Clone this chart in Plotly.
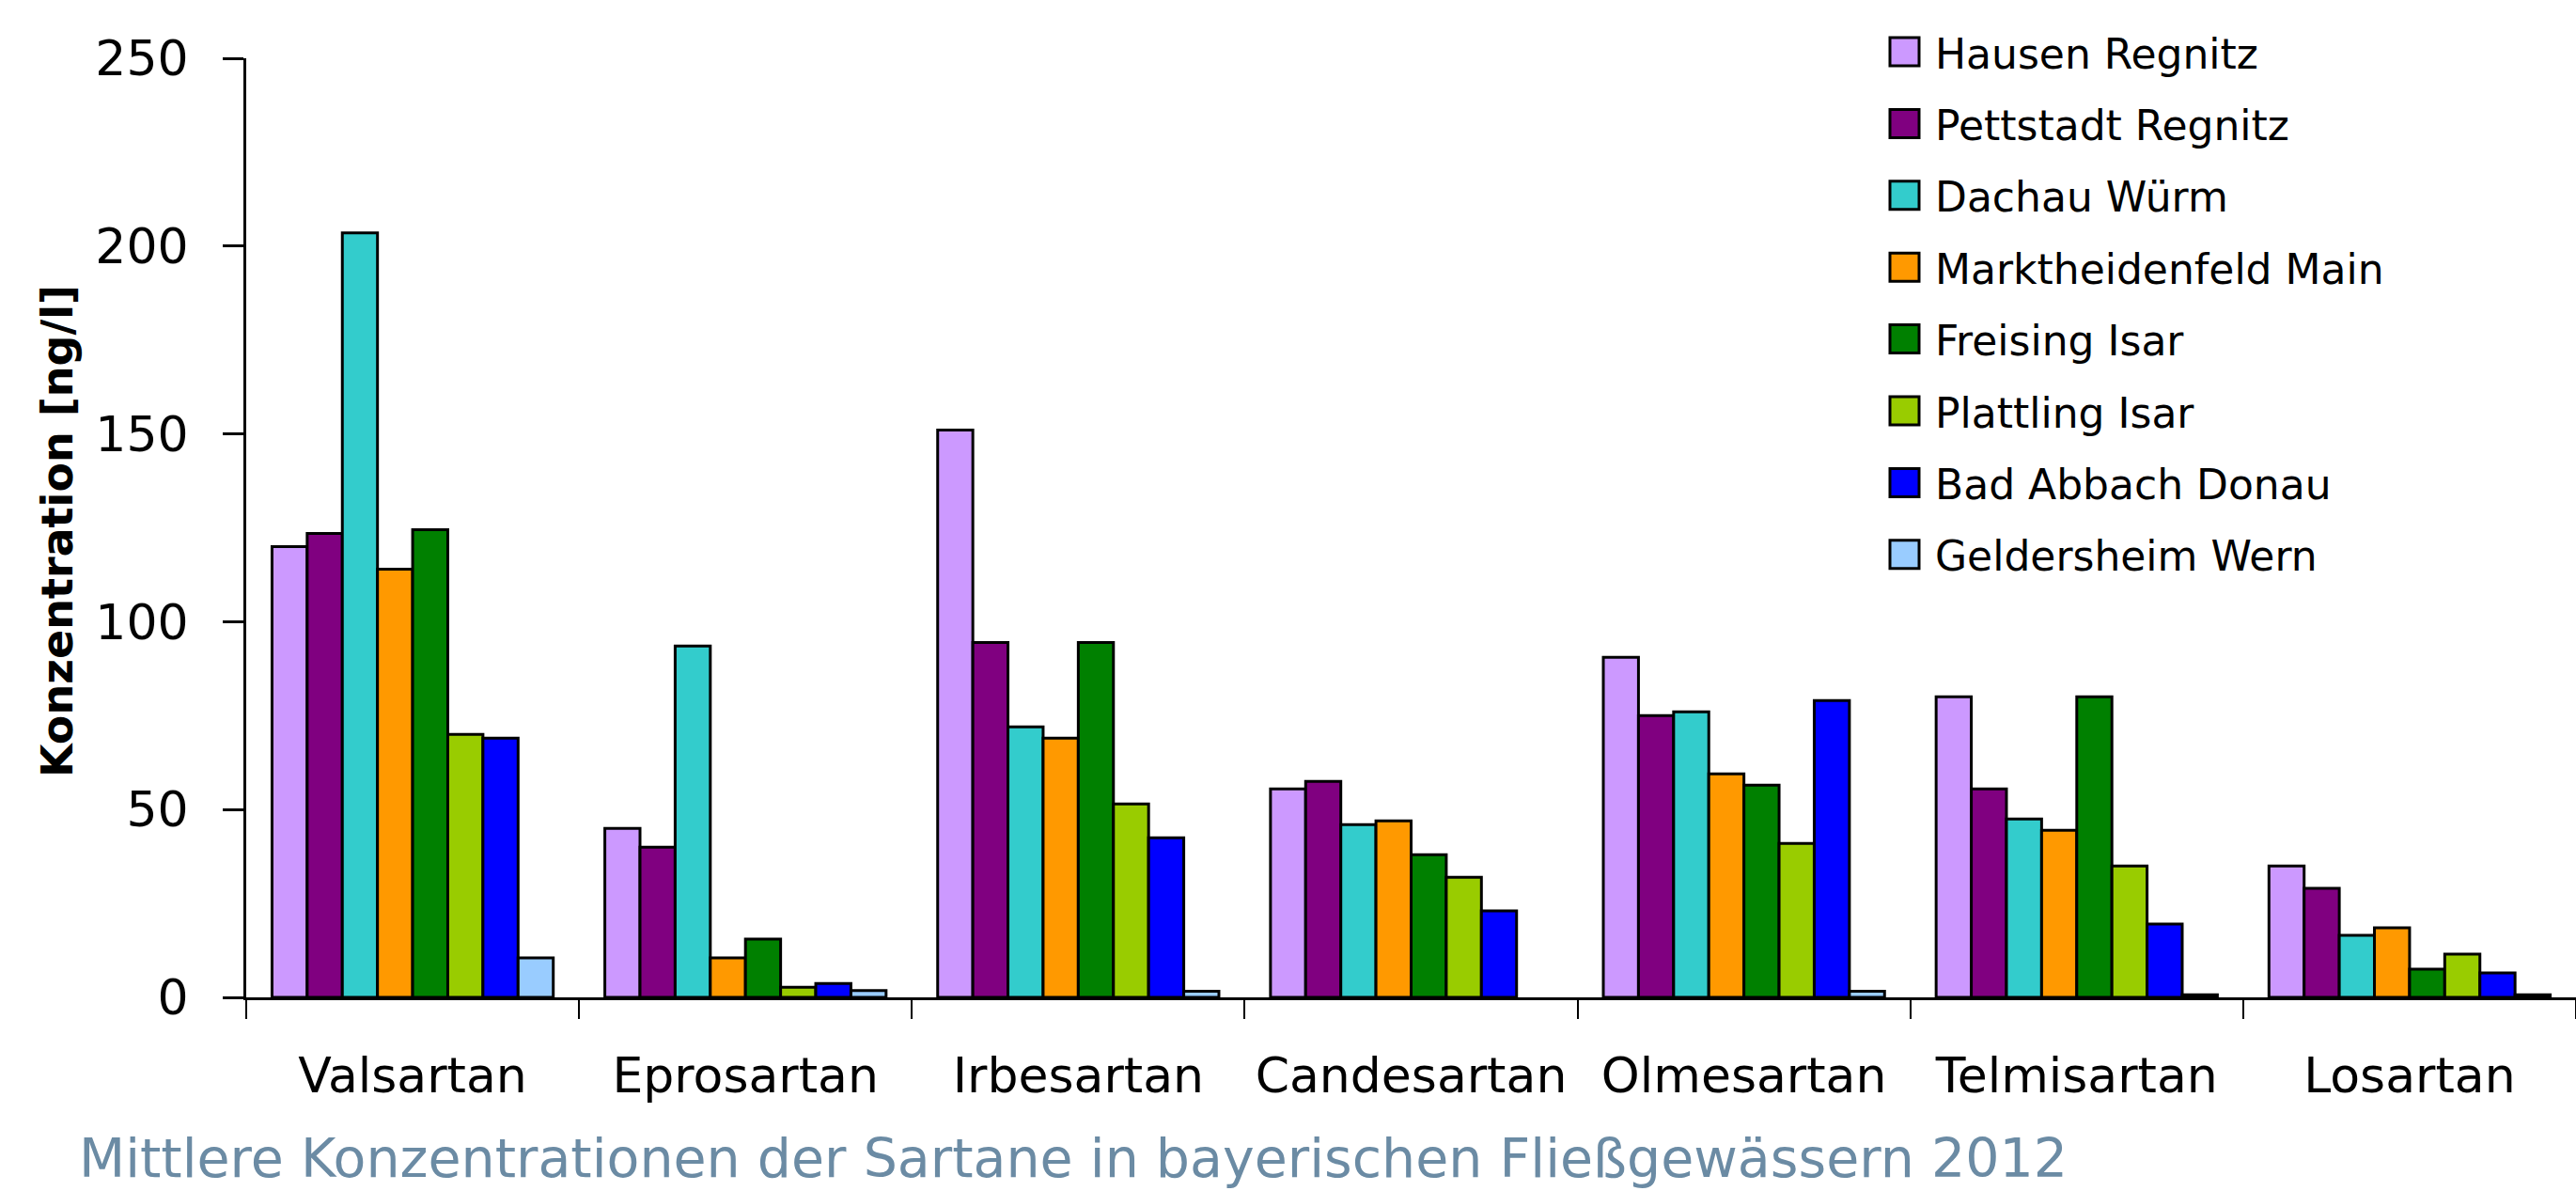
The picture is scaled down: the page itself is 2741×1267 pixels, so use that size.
import plotly.graph_objects as go

# ---------------- data ----------------
categories = ["Valsartan", "Eprosartan", "Irbesartan", "Candesartan",
              "Olmesartan", "Telmisartan", "Losartan"]

hausen_regnitz = [120, 45, 151, 55.5, 90.5, 80, 35]
pettstadt_regnitz = [123.5, 40, 94.5, 57.5, 75, 55.5, 29]
dachau_wuerm = [203.5, 93.5, 72, 46, 76, 47.5, 16.5]
marktheidenfeld_main = [114, 10.5, 69, 47, 59.5, 44.5, 18.5]
freising_isar = [124.5, 15.5, 94.5, 38, 56.5, 80, 7.5]
plattling_isar = [70, 2.7, 51.5, 32, 41, 35, 11.5]
bad_abbach_donau = [69, 3.7, 42.5, 23, 79, 19.5, 6.5]
geldersheim_wern = [10.5, 1.8, 1.6, None, 1.6, 0.7, 0.7]

series_names = ["Hausen Regnitz", "Pettstadt Regnitz", "Dachau Würm",
                "Marktheidenfeld Main", "Freising Isar", "Plattling Isar",
                "Bad Abbach Donau", "Geldersheim Wern"]
series_values = [hausen_regnitz, pettstadt_regnitz, dachau_wuerm,
                 marktheidenfeld_main, freising_isar, plattling_isar,
                 bad_abbach_donau, geldersheim_wern]
series_colors = ["#CC99FF", "#800080", "#33CCCC", "#FF9900",
                 "#008000", "#99CC00", "#0000FF", "#99CCFF"]

y_ticks = [0, 50, 100, 150, 200, 250]
y_title = "Konzentration [ng/l]"
chart_title = "Mittlere Konzentrationen der Sartane in bayerischen Fließgewässern 2012"

# ---------------- layout geometry (pixels) ----------------
W, H = 2741, 1267
PL, PR, PT, PB = 262, 0, 62, 206
plot_w = W - PL - PR
plot_h = H - PT - PB


def px_x(x):
    return (x - PL) / plot_w


def px_y(y):
    return (H - PB - y) / plot_h


FONT = "DejaVu Sans"

fig = go.Figure()
for name, vals, col in zip(series_names, series_values, series_colors):
    fig.add_trace(go.Bar(
        x=categories, y=vals, name=name,
        marker=dict(color=col, line=dict(color="black", width=3)),
        showlegend=False,
    ))

# legend built from the series lists
shapes = []
annotations = []
row0, row_step = 55, 76.4
for i, (name, col) in enumerate(zip(series_names, series_colors)):
    cy = row0 + i * row_step
    shapes.append(dict(
        type="rect", xref="paper", yref="paper",
        x0=px_x(2011), x1=px_x(2042), y0=px_y(cy + 15), y1=px_y(cy - 15),
        fillcolor=col, line=dict(color="black", width=3),
    ))
    annotations.append(dict(
        text=name, xref="paper", yref="paper",
        x=px_x(2057), y=px_y(cy), xanchor="left", yanchor="middle",
        showarrow=False, font=dict(family=FONT, size=44, color="black"),
        yshift=-2,
    ))

annotations.append(dict(
    text="<b>" + y_title + "</b>", xref="paper", yref="paper",
    x=px_x(61), y=px_y(565), xanchor="center", yanchor="middle",
    textangle=-90, showarrow=False,
    font=dict(family=FONT, size=46, color="black"),
))
annotations.append(dict(
    text=chart_title, xref="paper", yref="paper",
    x=px_x(82), y=px_y(1232), xanchor="left", yanchor="middle",
    showarrow=False, font=dict(family=FONT, size=57, color="#6B8BA4"),
))

fig.update_layout(
    width=W, height=H,
    margin=dict(l=PL, r=PR, t=PT, b=PB, pad=0),
    paper_bgcolor="white", plot_bgcolor="white",
    barmode="group", bargap=0.155, bargroupgap=0,
    font=dict(family=FONT, color="black"),
    shapes=shapes, annotations=annotations,
    showlegend=False,
)
fig.update_xaxes(
    type="category", showline=True, linecolor="black", linewidth=3,
    ticks="outside", tickson="boundaries", ticklen=20, tickwidth=2,
    tickcolor="black", showgrid=False, zeroline=False,
    tickfont=dict(family=FONT, size=52, color="black"),
    ticklabelstandoff=36,
)
fig.update_yaxes(
    range=[0, 250], tickvals=y_ticks, showline=True, linecolor="black",
    linewidth=3, ticks="outside", ticklen=22, tickwidth=3, tickcolor="black",
    showgrid=False, zeroline=False,
    tickfont=dict(family=FONT, size=52, color="black"),
    ticklabelstandoff=26,
)

fig.write_html(
    "out.html",
    config={"displayModeBar": False},
    post_script="document.body.style.margin='0';document.body.style.overflow='hidden';",
)
